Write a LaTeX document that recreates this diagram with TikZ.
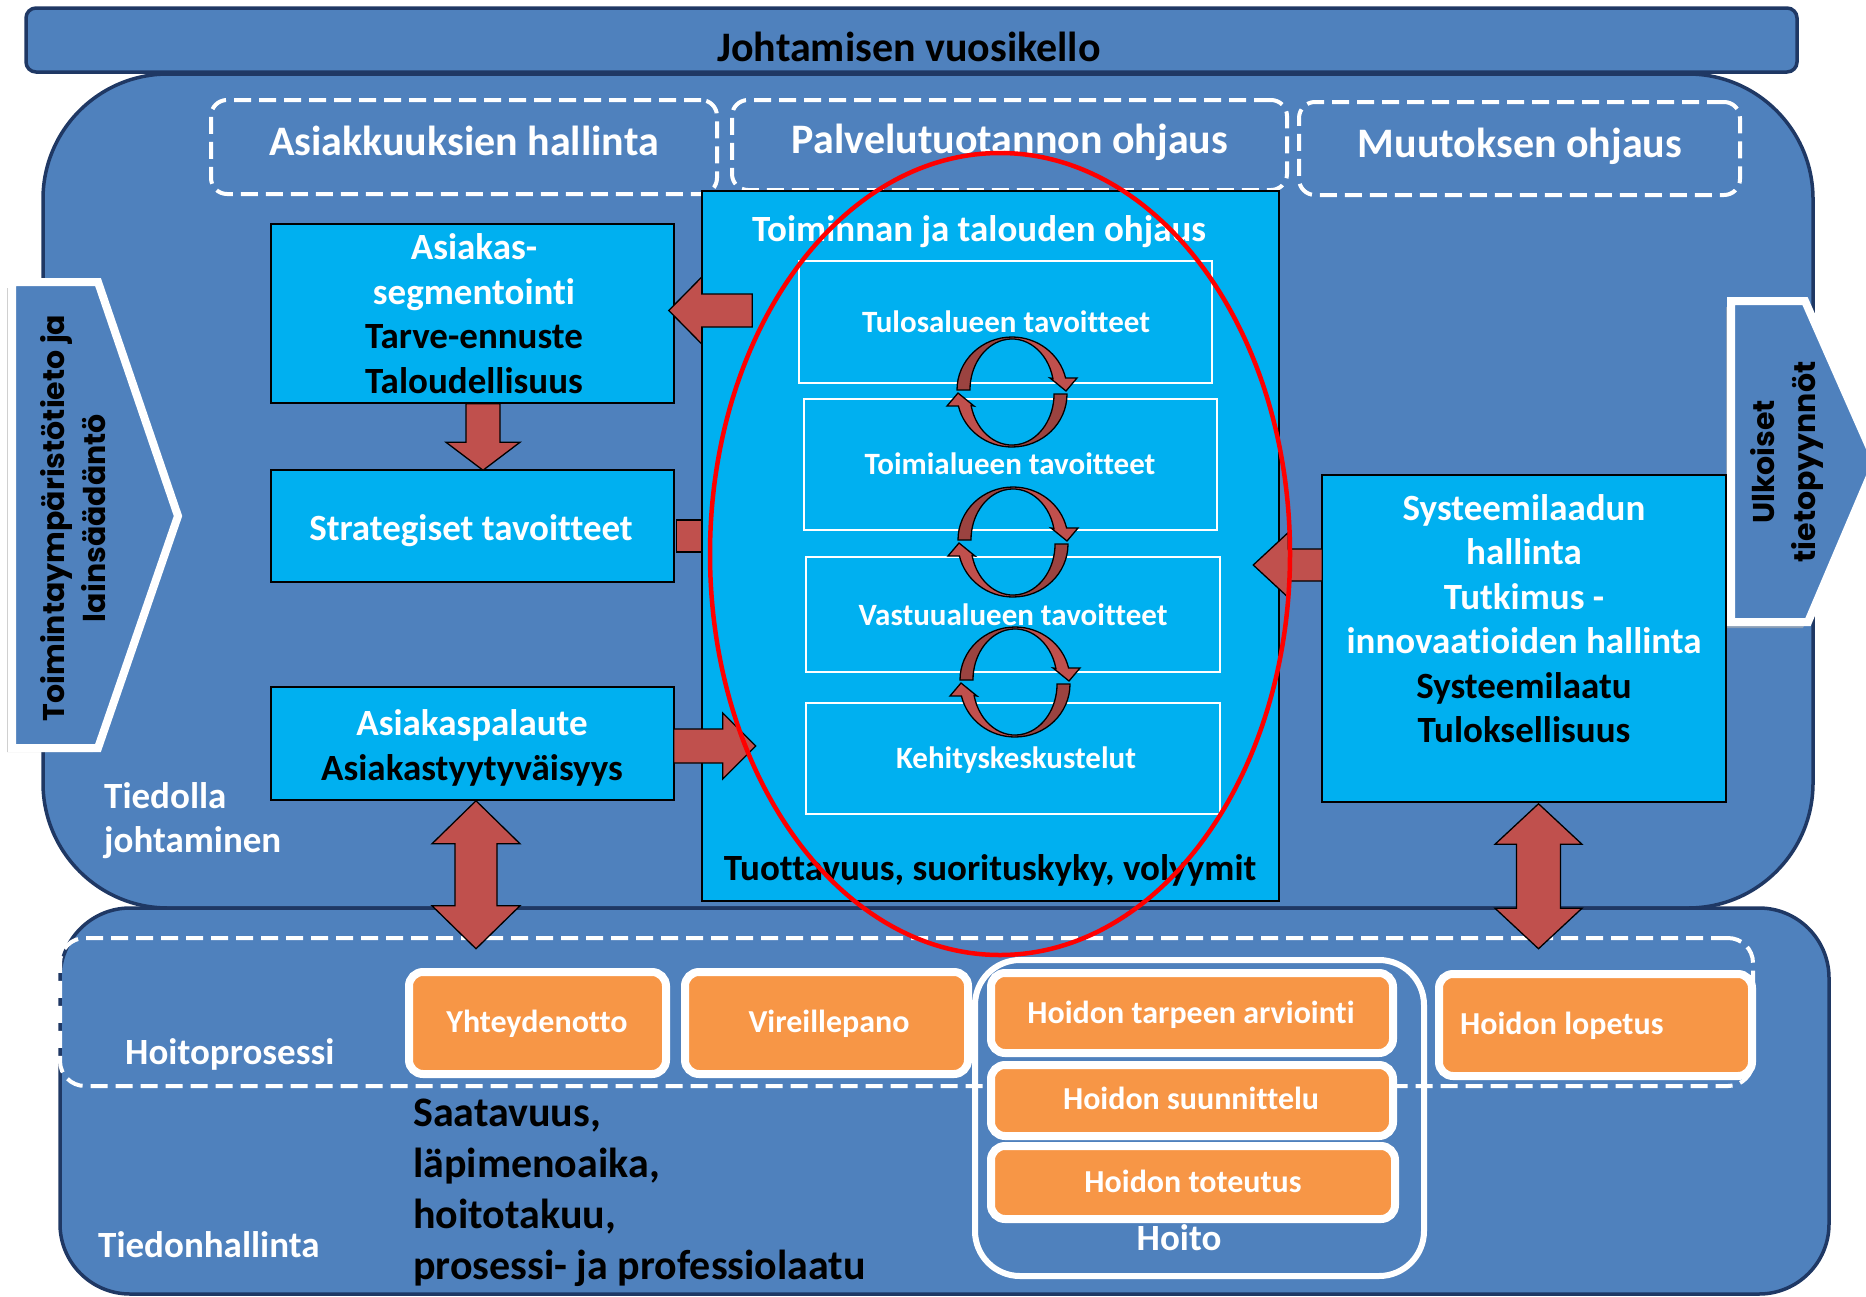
\documentclass[tikz,border=0pt]{standalone}
\usepackage{fontspec}
\setmainfont{Carlito}[Ligatures=NoCommon]
\newfontfamily\sidefont{Poppins}
\usetikzlibrary{calc}
\definecolor{regblue}{HTML}{4F81BD}
\definecolor{navyline}{HTML}{1F3864}
\definecolor{cyanfill}{HTML}{00B0F0}
\definecolor{arrred}{HTML}{C0504D}
\definecolor{arrdark}{HTML}{9B4340}
\definecolor{orfill}{HTML}{F79646}
\definecolor{ellred}{HTML}{FF0000}
\newcommand\fsz[2]{\fontsize{#1}{#2}\selectfont}
\newcommand\sarrow[5]{%
  \path (#1) coordinate (sa-S) (#2) coordinate (sa-T);
  \coordinate (sa-B) at ($(sa-T)!#5pt!(sa-S)$);
  \path[barrow] ($(sa-S)!#3pt!90:(sa-T)$) -- ($(sa-B)!#3pt!90:(sa-T)$) -- ($(sa-B)!#4pt!90:(sa-T)$) -- (sa-T) -- ($(sa-B)!#4pt!-90:(sa-T)$) -- ($(sa-B)!#3pt!-90:(sa-T)$) -- ($(sa-S)!#3pt!-90:(sa-T)$) -- cycle;}
\newcommand\darrow[5]{%
  \path (#1) coordinate (da-S) (#2) coordinate (da-T);
  \coordinate (da-B1) at ($(da-S)!#5pt!(da-T)$);
  \coordinate (da-B2) at ($(da-T)!#5pt!(da-S)$);
  \path[barrow] (da-S) -- ($(da-B1)!#4pt!90:(da-T)$) -- ($(da-B1)!#3pt!90:(da-T)$) -- ($(da-B2)!#3pt!90:(da-T)$) -- ($(da-B2)!#4pt!90:(da-T)$) -- (da-T) -- ($(da-B2)!#4pt!-90:(da-T)$) -- ($(da-B2)!#3pt!-90:(da-T)$) -- ($(da-B1)!#3pt!-90:(da-T)$) -- ($(da-B1)!#4pt!-90:(da-T)$) -- cycle;}
\newcommand\cycarc{%
  \fill[arrred] (0,53) arc[start angle=90,end angle=13,x radius=55,y radius=53] -- (65,12) -- (54,-1) -- (38,12) -- (40.9,11.5) arc[start angle=13,end angle=90,x radius=42,y radius=51] -- cycle;
  \fill[arrdark] (-55,0) arc[start angle=180,end angle=90,x radius=55,y radius=53] -- (0,51) arc[start angle=90,end angle=180,x radius=42,y radius=51] -- cycle;
  \draw[black,line width=1.3pt,line join=miter] (-55,0) arc[start angle=180,end angle=13,x radius=55,y radius=53] -- (65,12) -- (54,-1) -- (38,12) -- (40.9,11.5) arc[start angle=13,end angle=180,x radius=42,y radius=51] -- cycle;}
\newcommand\cycpair[2]{%
  \begin{scope}[shift={(#1,#2)},yscale=-1]
    \cycarc
    \begin{scope}[shift={(0,-4)},rotate=180]\cycarc\end{scope}
  \end{scope}}
\begin{document}
\begin{tikzpicture}[x=1pt,y=-1pt,
  region/.style={draw=navyline,line width=3.5pt,fill=regblue},
  dashbox/.style={draw=white,line width=4pt,dash pattern=on 17pt off 8pt,rounded corners=16pt,inner sep=0pt},
  cbox/.style={draw=black,line width=1.5pt,fill=cyanfill,inner sep=0pt},
  ibox/.style={draw=white,line width=2pt,inner sep=0pt},
  barrow/.style={draw=black,line width=1.3pt,fill=arrred,line join=miter},
  obox/.style={draw=white,line width=8pt,fill=orfill,rounded corners=14pt,inner sep=0pt},
  chev/.style={draw=white,line width=8pt,fill=regblue,line join=miter},
  wt/.style={text=white,font=\bfseries\fsz{37}{44.5},inner sep=0pt},
  bt/.style={text=black,font=\bfseries\fsz{37}{44.5},inner sep=0pt},
  ot/.style={text=white,font=\bfseries\fsz{32}{38},inner sep=0pt},
  it/.style={text=white,font=\bfseries\fsz{31}{37},inner sep=0pt},
  hd/.style={text=white,font=\bfseries\fsz{42}{50},inner sep=0pt},
  sidetxt/.style={text=black,font=\sidefont\bfseries\fsz{30}{41},align=center,rotate=90,inner sep=0pt}]
\useasboundingbox (0,0) rectangle (1866,1296);
\fill[white] (0,0) rectangle (1866,1296);
% top bar and regions
\node[region,rounded corners=10pt,minimum width=1771pt,minimum height=64pt,inner sep=0pt] (bar) at (911.5,40) {};
\path[region,rounded corners=125pt] (43,500) -- (43,74) -- (1813,74) -- (1813,908) -- (43,908) -- cycle;
\path[region,rounded corners=70pt] (60,1100) -- (60,908) -- (1829,908) -- (1829,1294) -- (60,1294) -- cycle;
% side chevrons
\fill[black!30,opacity=0.6] (7,288) -- (93,288) -- (172,523) -- (93,752) -- (7,752) -- cycle;
\path[chev] (12,282) -- (98,282) -- (178,516) -- (98,748) -- (12,748) -- cycle;
\fill[black!30,opacity=0.6] (1726,307) -- (1800,307) -- (1871,468) -- (1803,628) -- (1726,628) -- cycle;
\path[chev] (1731,301) -- (1805,301) -- (1876,462) -- (1808,622) -- (1731,622) -- cycle;
\node[sidetxt] (lside) at (73,518) {Toimintaympäristötieto ja\\lainsäädäntö};
\node[sidetxt] (rside) at (1787,462) {Ulkoiset\\tietopyynnöt};
% dashed header boxes
\node[dashbox,minimum width=506pt,minimum height=94pt] (dh1) at (464,147) {};
\node[dashbox,minimum width=555pt,minimum height=90pt] (dh2) at (1009.5,145) {};
\node[dashbox,minimum width=441pt,minimum height=93pt] (dh3) at (1519.5,148.5) {};
\node[hd,anchor=base] (dh1t) at (464,155) {Asiakkuuksien hallinta};
\node[hd,anchor=base] (dh2t) at (1010,153) {Palvelutuotannon ohjaus};
\node[hd,anchor=base] (dh3t) at (1520,157) {Muutoksen ohjaus};
\node[text=black,font=\bfseries\fsz{42}{50},inner sep=0pt,anchor=base] (ttl) at (909,61) {Johtamisen vuosikello};
% lane
\node[dashbox,rounded corners=25pt,minimum width=1693pt,minimum height=148pt] (lane) at (906.5,1012) {};
% central box
\node[cbox,minimum width=577pt,minimum height=710pt] (toim) at (990.5,546) {};
\node[wt,anchor=base] (toimt) at (979,241) {Toiminnan ja talouden ohjaus};
\node[bt,anchor=base] (tuot) at (990,880) {Tuottavuus, suorituskyky, volyymit};
\node[ibox,minimum width=413pt,minimum height=122pt] (i1) at (1005.5,322) {};
\node[ibox,minimum width=413pt,minimum height=131pt] (i2) at (1010.5,464.5) {};
\node[ibox,minimum width=414pt,minimum height=115pt] (i3) at (1013,614.5) {};
\node[ibox,minimum width=414pt,minimum height=111pt] (i4) at (1013,758.5) {};
\node[it,anchor=base] (i1t) at (1006,332) {Tulosalueen tavoitteet};
\node[it,anchor=base] (i2t) at (1010,474) {Toimialueen tavoitteet};
\node[it,anchor=base] (i3t) at (1013,625) {Vastuualueen tavoitteet};
\node[it,anchor=base] (i4t) at (1016,768) {Kehityskeskustelut};
\cycpair{1012}{390}
\cycpair{1013}{540}
\cycpair{1015}{680}
% left boxes
\node[cbox,minimum width=403pt,minimum height=179pt] (asi) at (472.5,313.5) {};
\node[wt,align=center] (asit) at (474,313.5) {Asiakas-\\segmentointi\\\textcolor{black}{Tarve-ennuste}\\\textcolor{black}{Taloudellisuus}};
\node[cbox,minimum width=403pt,minimum height=112pt] (str) at (472.5,526) {};
\node[wt,anchor=base] (strt) at (471,540) {Strategiset tavoitteet};
\node[cbox,minimum width=403pt,minimum height=113pt] (pal) at (472.5,743.5) {};
\node[wt,align=center,font=\bfseries\fsz{37}{45}] (palt) at (472,747.5) {Asiakaspalaute\\\textcolor{black}{Asiakastyytyväisyys}};
\node[wt,align=left,anchor=west,font=\bfseries\fsz{37}{44}] (tjoh) at (104,821) {Tiedolla\\johtaminen};
% right box
\node[cbox,minimum width=404pt,minimum height=327pt] (sys) at (1524,638.5) {};
\node[wt,align=center] (syst) at (1524,618.5) {Systeemilaadun\\hallinta\\Tutkimus -\\innovaatioiden hallinta\\\textcolor{black}{Systeemilaatu}\\\textcolor{black}{Tuloksellisuus}};
% block arrows
\sarrow{$(toim.west|-asi.east)+(51,-3)$}{$(asi.east)+(-6,-3)$}{16.5}{33.5}{33}
\sarrow{$(asi.south)+(10.5,0)$}{$(str.north)+(10.5,1)$}{17}{37}{28}
\path[barrow] ($(str.east)+(2,-6)$) rectangle ($(toim.west|-str.east)+(0,26)$);
\sarrow{$(pal.east)+(-1,2.5)$}{$(pal.east)+(81,2.5)$}{17}{33}{33}
\sarrow{$(sys.west)+(1,-73.5)$}{$(sys.west)+(-68,-73.5)$}{16}{32.5}{35}
\darrow{$(pal.south)+(3.5,0)$}{$(pal.south)+(3.5,148)$}{21}{44}{43}
\darrow{$(sys.south)+(14.5,1)$}{$(sys.south)+(14.5,146)$}{22}{43.5}{40.5}
% lower area
\node[wt,anchor=base west] (hpros) at (125,1064) {Hoitoprosessi};
\node[wt,anchor=base west] (tietoh) at (98,1257) {Tiedonhallinta};
\node[bt,align=left,anchor=west,font=\bfseries\fsz{42}{51}] (saat) at (413,1193) {Saatavuus,\\läpimenoaika,\\hoitotakuu,\\prosessi- ja professiolaatu};
\node[draw=white,line width=6pt,rounded corners=45pt,minimum width=449pt,minimum height=316pt,inner sep=0pt] (hgrp) at (1199.5,1118) {};
\node[obox,minimum width=257pt,minimum height=102pt] (yht) at (537.5,1023) {};
\node[obox,minimum width=283pt,minimum height=102pt] (vir) at (826.5,1023) {};
\node[obox,minimum width=402pt,minimum height=80pt] (hta) at (1192,1013) {};
\node[obox,minimum width=402pt,minimum height=71pt] (hsu) at (1192,1100.5) {};
\node[obox,minimum width=404pt,minimum height=73pt] (hto) at (1193,1182.5) {};
\node[obox,minimum width=313pt,minimum height=102pt] (hlo) at (1595.5,1025) {};
\node[ot,anchor=base] (yhtt) at (537,1032) {Yhteydenotto};
\node[ot,anchor=base] (virt) at (829,1032) {Vireillepano};
\node[ot,anchor=base] (htat) at (1191,1023) {Hoidon tarpeen arviointi};
\node[ot,anchor=base] (hsut) at (1191,1109) {Hoidon suunnittelu};
\node[ot,anchor=base] (htot) at (1193,1192) {Hoidon toteutus};
\node[ot,anchor=base west] (hlot) at (1460,1034) {Hoidon lopetus};
\node[wt,anchor=base] (hoito) at (1179,1250) {Hoito};
% focus ellipse
\draw[ellred,line width=4.5pt] (1000,554) ellipse [x radius=290, y radius=401];
\end{tikzpicture}
\end{document}
